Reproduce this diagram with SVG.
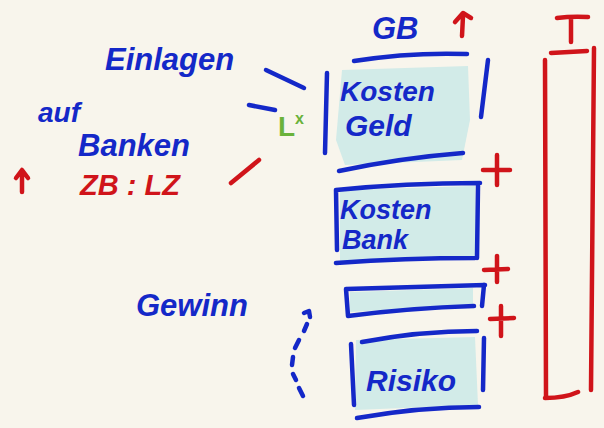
<svg xmlns="http://www.w3.org/2000/svg" width="604" height="428" viewBox="0 0 604 428">
<style>
.b{stroke:#1428c8;stroke-width:4.5;fill:none;stroke-linecap:round;stroke-linejoin:round}
.r{stroke:#d0141a;stroke-width:4.5;fill:none;stroke-linecap:round;stroke-linejoin:round}
.fill{fill:#d2ebe8}
.tb{font-family:"Liberation Sans",Arial,sans-serif;font-weight:bold;font-style:italic;fill:#1428c8}
.tr{font-family:"Liberation Sans",Arial,sans-serif;font-weight:bold;font-style:italic;fill:#d0141a}
.tg{font-family:"Liberation Sans",Arial,sans-serif;font-weight:bold;fill:#6ab23a}
</style>
<rect width="604" height="428" fill="#f8f5ec"/>

<g id="einlagen"><text class="tb" x="105" y="70" font-size="31">Einlagen</text></g>
<g id="banken">
<text class="tb" x="38" y="122" font-size="28">auf</text>
<text class="tb" x="78" y="156" font-size="31">Banken</text>
</g>
<g id="zb">
<path class="r" d="M22 192 L22 172 M16 178 L22 170 L28 178"/>
<text class="tr" x="80" y="195" font-size="29">ZB : LZ</text>
</g>
<g id="lx"><text class="tg" x="278" y="136" font-size="28">L<tspan font-size="16" dy="-12">x</tspan></text></g>

<g id="connectors">
<path class="b" d="M266 70 L304 88"/>
<path class="b" d="M249 105 L275 110"/>
<path class="r" d="M231 183 L259 160"/>
<path class="b" d="M304 313 l5 -2 l1 6 M307 324 l-3 7 M299 340 l-4 8 M293 357 l-1 8 M293 374 l3 6 M299 388 l4 8" />
</g>

<g id="gb">
<text class="tb" x="372" y="39" font-size="31">GB</text>
<path class="r" d="M462 36 L463 16 M455 22 L463 13 L471 18"/>
</g>

<g id="kosten-geld">
<path class="fill" d="M342 70 L468 66 L470 120 L462 160 L345 165 L336 140 Z"/>
<path class="b" d="M354 61 Q410 52 467 54 M327 73 L325 153 M488 60 L481 117 M339 171 Q400 158 463 153"/>
<text class="tb" x="340" y="101" font-size="28">Kosten</text>
<text class="tb" x="345" y="136" font-size="30">Geld</text>
</g>
<path class="r" d="M497 155 L497 185 M483 170 L510 170"/>

<g id="kosten-bank">
<path class="fill" d="M340 190 L475 186 L476 258 L340 262 Z"/>
<path class="b" d="M336 190 Q405 183 480 183 M336 190 L337 250 M478 186 L477 258 M336 263 Q405 258 475 258"/>
<text class="tb" x="340" y="219" font-size="27">Kosten</text>
<text class="tb" x="342" y="249" font-size="27">Bank</text>
</g>
<path class="r" d="M497 256 L497 282 M484 270 L508 269"/>

<g id="gewinn-box">
<path class="fill" d="M350 292 L473 288 L473 305 L350 312 Z"/>
<path class="b" d="M346 289 L485 285 M346 289 L348 316 M484 285 L482 306 M348 316 Q410 308 474 306"/>
</g>
<path class="r" d="M501 306 L501 336 M490 319 L514 318"/>

<g id="gewinn"><text class="tb" x="136" y="316" font-size="31">Gewinn</text></g>

<g id="risiko">
<path class="fill" d="M356 340 L475 337 L478 405 L355 410 Z"/>
<path class="b" d="M362 342 Q420 331 477 331 M351 344 L354 405 M484 338 L483 390 M357 418 Q420 407 479 407"/>
<text class="tb" x="366" y="391" font-size="30">Risiko</text>
</g>

<g id="total">
<path class="r" d="M557 18 Q572 16 588 17 M571 17 L571 42 M551 53 L587 51 M545 60 L546 396 M594 48 L591 390 M545 398 Q565 398 578 392"/>
</g>
</svg>
